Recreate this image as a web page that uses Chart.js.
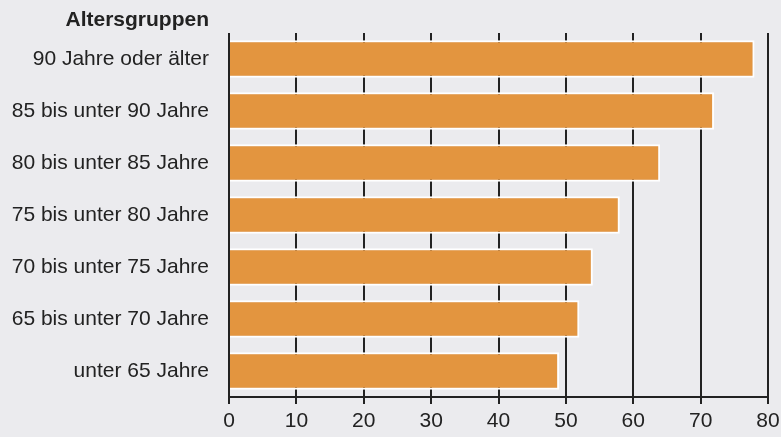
<!DOCTYPE html>
<html>
<head>
<meta charset="utf-8">
<script src="https://cdn.jsdelivr.net/npm/chart.js@4/dist/chart.umd.min.js"></script>
<style>
  html, body { margin: 0; padding: 0; background: #ebebee; }
  #wrap { width: 781px; height: 437px; }
</style>
</head>
<body>
<div id="wrap"><canvas id="age-chart"></canvas></div>
<script>
const axisTitle = "Altersgruppen";
const categories = [
  "90 Jahre oder älter",
  "85 bis unter 90 Jahre",
  "80 bis unter 85 Jahre",
  "75 bis unter 80 Jahre",
  "70 bis unter 75 Jahre",
  "65 bis unter 70 Jahre",
  "unter 65 Jahre",
];
const values = [78, 72, 64, 58, 54, 52, 49];
const xTicks = [0, 10, 20, 30, 40, 50, 60, 70, 80];

const textColor = "#222222";
const fontFamily = "'Liberation Sans', Arial, Helvetica, sans-serif";

// draws the bold category heading above the y labels
const headingPlugin = {
  id: "heading",
  afterDraw(chart) {
    const ctx = chart.ctx;
    const y = chart.scales.y;
    ctx.save();
    ctx.font = "bold 21px " + fontFamily;
    ctx.fillStyle = textColor;
    ctx.textAlign = "right";
    ctx.textBaseline = "alphabetic";
    ctx.fillText(axisTitle, y.right - 20, 26);
    ctx.restore();
  },
};

const config = {
  type: "bar",
  data: {
    labels: categories,
    datasets: [
      {
        data: values,
        backgroundColor: "#e3953f",
        borderColor: "#ffffff",
        borderWidth: 2,
        barPercentage: 0.72,
        categoryPercentage: 1,
      },
    ],
  },
  options: {
    indexAxis: "y",
    responsive: true,
    maintainAspectRatio: false,
    animation: false,
    layout: { padding: { top: 33, right: 0, left: 0, bottom: 0 } },
    plugins: {
      legend: { display: false },
      tooltip: { enabled: false },
    },
    scales: {
      x: {
        min: 0,
        max: 80,
        afterBuildTicks(scale) {
          scale.ticks = xTicks.map((v) => ({ value: v }));
        },
        afterFit(scale) {
          scale.height = 40;
          scale.paddingRight = 13;
        },
        grid: {
          color: textColor,
          lineWidth: 2,
          drawTicks: true,
          tickLength: 7,
          tickColor: textColor,
        },
        border: { display: true, color: textColor, width: 2 },
        ticks: {
          color: textColor,
          padding: 5,
          font: { family: fontFamily, size: 21 },
        },
      },
      y: {
        afterFit(scale) {
          scale.width = 229;
        },
        grid: { display: false, drawTicks: false },
        border: { display: false },
        ticks: {
          color: textColor,
          padding: 20,
          font: { family: fontFamily, size: 21 },
        },
      },
    },
  },
  plugins: [headingPlugin],
};

new Chart(document.getElementById("age-chart"), config);
</script>
</body>
</html>
